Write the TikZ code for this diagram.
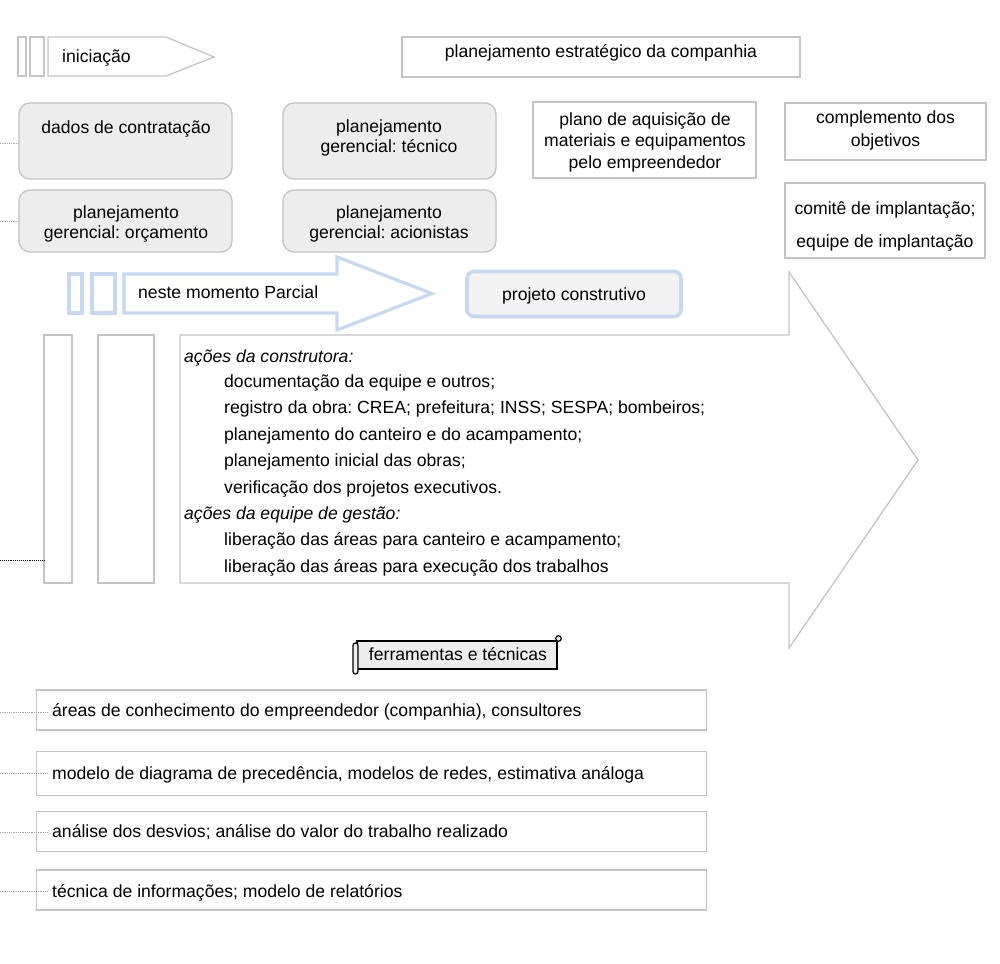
\documentclass[tikz,border=0pt]{standalone}
\usepackage{fontspec}
\setmainfont{Liberation Sans}
\frenchspacing
\definecolor{lg}{HTML}{C4C4C4}
\definecolor{bl}{HTML}{C6D9F1}
\definecolor{rfill}{HTML}{EDEDED}
\definecolor{pfill}{HTML}{F3F3F3}
\definecolor{dotg}{HTML}{A8A8A8}
\tikzset{
  txt/.style={font=\fontsize{17.6}{20}\selectfont, inner sep=0pt, text=black},
  graybox/.style={draw=lg, line width=1.3pt, fill=white},
  roundbox/.style={draw=lg, line width=1.3pt, fill=rfill, rounded corners=11pt},
  grayline/.style={draw=lg, line width=1.3pt, line join=miter},
  blueline/.style={draw=bl, line width=3.2pt, line join=miter},
  dotline/.style={draw=dotg, densely dotted, line width=0.8pt},
  darkdot/.style={draw=black, densely dotted, line width=0.9pt},
}
\begin{document}
\begin{tikzpicture}[x=1pt,y=-1pt]
\useasboundingbox (0,0) rectangle (1000,963);
\fill[white] (0,0) rectangle (1000,963);

% iniciacao arrow
\draw[grayline] (18,37) rectangle (26,76);
\draw[grayline] (30,37) rectangle (44,76);
\draw[grayline] (48,37) -- (166,37) -- (214,57) -- (166,76) -- (48,76) -- cycle;
\node[txt, anchor=base west] (ini) at (62,63) {iniciação};

% planejamento estrategico
\draw[graybox] (402,37) rectangle (800,77);
\node[txt, anchor=base] (petxt) at (601,58) {planejamento estratégico da companhia};

% rounded boxes
\node[roundbox, minimum width=213pt, minimum height=76pt] (dados) at (125.5,141) {};
\node[txt, anchor=base] (dadostxt) at (126,133) {dados de contratação};
\node[roundbox, minimum width=213pt, minimum height=76pt] (tec) at (389.5,141) {};
\node[txt, anchor=base, align=center] (tectxt) at (389,152) {planejamento\\gerencial: técnico};
\node[roundbox, minimum width=213pt, minimum height=62pt] (orc) at (125.5,221) {};
\node[txt, anchor=base, align=center] (orctxt) at (126,238) {planejamento\\gerencial: orçamento};
\node[roundbox, minimum width=213pt, minimum height=62pt] (aci) at (389.5,221) {};
\node[txt, anchor=base, align=center] (acitxt) at (389,238) {planejamento\\gerencial: acionistas};

\coordinate (d1) at (0,143);
\coordinate (d2) at (0,221);
\draw[dotline] (d1) -- (d1 -| dados.west);
\draw[dotline] (d2) -- (d2 -| orc.west);

% right boxes
\draw[graybox] (533,102) rectangle (756,178);
\node[txt, anchor=base, align=center, font=\fontsize{17.6}{21.5}\selectfont] (plano) at (645,168) {plano de aquisição de\\materiais e equipamentos\\pelo empreendedor};
\draw[graybox] (785,103) rectangle (986,160);
\node[txt, anchor=base, align=center, font=\fontsize{17.6}{22}\selectfont] (compl) at (885.5,146) {complemento dos\\objetivos};
\draw[graybox] (785,183) rectangle (985,258);
\node[txt, anchor=base, align=center, font=\fontsize{17.6}{33}\selectfont] (comite) at (885,247) {comitê de implantação;\\equipe de implantação};

% blue arrow
\draw[blueline] (69,274) rectangle (82,313);
\draw[blueline] (92,274) rectangle (115,313);
\draw[blueline] (124,274) -- (337,274) -- (337,257) -- (432,293.5) -- (337,330) -- (337,313) -- (124,313) -- cycle;
\node[txt, anchor=base west] (neste) at (138,298) {neste momento Parcial};

% projeto construtivo
\node[draw=bl, line width=3.6pt, fill=pfill, rounded corners=7pt, minimum width=214pt, minimum height=45pt] (proj) at (574,294) {};
\node[txt, anchor=base] (projtxt) at (574,300) {projeto construtivo};

% big arrow
\draw[grayline] (44,335) rectangle (72,583);
\draw[grayline] (98,335) rectangle (154,583);
\draw[grayline] (180,335) -- (789,335) -- (789,272) -- (918,460) -- (789,648) -- (789,583) -- (180,583) -- cycle;
\coordinate (d3) at (0,560);
\coordinate (r1) at (44,560);
\draw[darkdot] (d3) -- (r1);

\node[txt, anchor=base west, font=\fontsize{17.6}{20}\itshape] (ac1) at (184,362) {ações da construtora:};
\node[txt, anchor=base west] (l1) at (224,387.4) {documentação da equipe e outros;};
\node[txt, anchor=base west] (l2) at (224,413.8) {registro da obra: CREA; prefeitura; INSS; SESPA; bombeiros;};
\node[txt, anchor=base west] (l3) at (224,440.2) {planejamento do canteiro e do acampamento;};
\node[txt, anchor=base west] (l4) at (224,466.6) {planejamento inicial das obras;};
\node[txt, anchor=base west] (l5) at (224,493) {verificação dos projetos executivos.};
\node[txt, anchor=base west, font=\fontsize{17.6}{20}\itshape] (ac2) at (184,519.4) {ações da equipe de gestão:};
\node[txt, anchor=base west] (l6) at (224,545.8) {liberação das áreas para canteiro e acampamento;};
\node[txt, anchor=base west] (l7) at (224,572.2) {liberação das áreas para execução dos trabalhos};

% ferramentas scroll
\draw[black, line width=1.2pt, fill=rfill] (357,641) -- (557,641) -- (557,669) -- (357,669) -- cycle;
\draw[black, line width=1.2pt, fill=rfill, rounded corners=2.5pt] (353,643) rectangle (358,674);
\draw[black, line width=1.2pt, fill=rfill] (558.5,638.5) circle (2.8pt);
\draw[black, line width=1.2pt] (357,641) -- (557,641);
\node[txt, anchor=base] (ferr) at (458,660) {ferramentas e técnicas};

% bottom boxes
\node[graybox, minimum width=670pt, minimum height=40pt, anchor=west] (b1) at (36,710) {};
\node[txt, anchor=base west] (b1t) at (52,716) {áreas de conhecimento do empreendedor (companhia), consultores};
\node[graybox, minimum width=670pt, minimum height=44pt, anchor=west] (b2) at (36,773.5) {};
\node[txt, anchor=base west] (b2t) at (52,779) {modelo de diagrama de precedência, modelos de redes, estimativa análoga};
\node[graybox, minimum width=670pt, minimum height=40pt, anchor=west] (b3) at (36,831.5) {};
\node[txt, anchor=base west] (b3t) at (52,837) {análise dos desvios; análise do valor do trabalho realizado};
\node[graybox, minimum width=670pt, minimum height=40pt, anchor=west] (b4) at (36,890) {};
\node[txt, anchor=base west] (b4t) at (52,897) {técnica de informações; modelo de relatórios};

\coordinate (e1) at (0,712);
\coordinate (e2) at (0,773);
\coordinate (e3) at (0,832);
\coordinate (e4) at (0,891);
\draw[dotline] (e1) -- (e1 -| b1.west) -- ++(12,0);
\draw[dotline] (e2) -- (e2 -| b2.west) -- ++(12,0);
\draw[dotline] (e3) -- (e3 -| b3.west) -- ++(12,0);
\draw[dotline] (e4) -- (e4 -| b4.west) -- ++(12,0);
\end{tikzpicture}
\end{document}
